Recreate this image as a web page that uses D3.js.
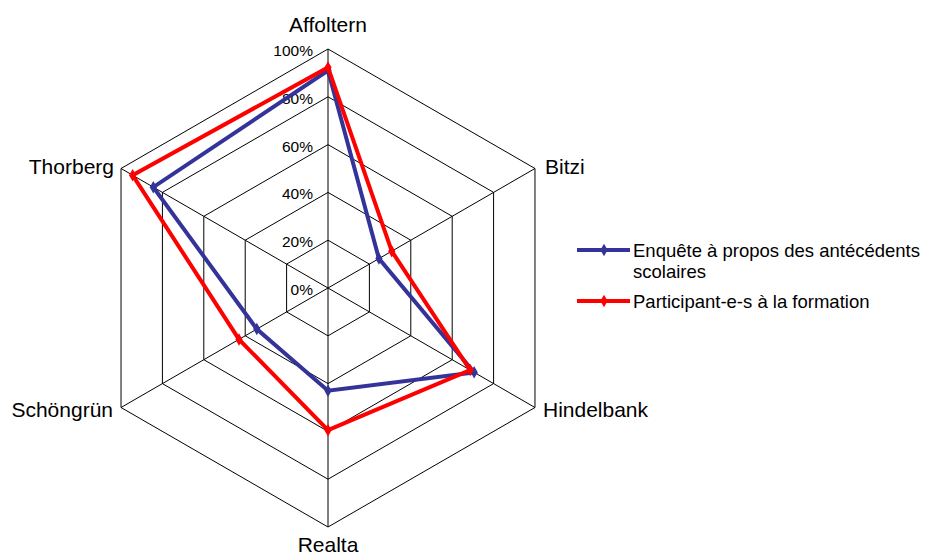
<!DOCTYPE html>
<html>
<head>
<meta charset="utf-8">
<script src="https://cdn.jsdelivr.net/npm/d3@7"></script>
<style>
  html, body { margin: 0; padding: 0; background: #fff; }
  svg text { font-family: "Liberation Sans", Arial, sans-serif; }
</style>
</head>
<body>
<svg id="chart" width="926" height="560"></svg>
<script>
// Institutions around the radar, clockwise from the top
const categories = ["Affoltern", "Bitzi", "Hindelbank", "Realta", "Schöngrün", "Thorberg"];
// Share per institution (%)
const enqueteValues = [91, 24.6, 70.6, 43, 34.4, 84.4];
const participantsValues = [92.3, 30.8, 68.7, 59.5, 43, 94.4];
const tickValues = [0, 20, 40, 60, 80, 100];
const tickLabels = ["0%", "20%", "40%", "60%", "80%", "100%"];
const seriesNames = ["Enquête à propos des antécédents scolaires", "Participant-e-s à la formation"];
const seriesColors = ["#333399", "#FF0000"];

const svg = d3.select("#chart");
const cx = 328, cy = 288, R = 239;

const r = d3.scaleLinear().domain([0, 100]).range([0, R]);
const angle = d3.scaleLinear().domain([0, categories.length]).range([0, 2 * Math.PI]);
const pt = (i, v) => {
  const a = angle(i);
  return [cx + r(v) * Math.sin(a), cy - r(v) * Math.cos(a)];
};

const g = svg.append("g");

// Hexagonal grid rings
tickValues.filter(t => t > 0).forEach(t => {
  g.append("path")
    .attr("d", d3.line()(categories.map((c, i) => pt(i, t))) + "Z")
    .attr("fill", "none").attr("stroke", "#000").attr("stroke-width", 1);
});

// Spokes
categories.forEach((c, i) => {
  const [x, y] = pt(i, 100);
  g.append("line").attr("x1", cx).attr("y1", cy).attr("x2", x).attr("y2", y)
    .attr("stroke", "#000").attr("stroke-width", 1);
});

// Ring labels along the top spoke
tickValues.forEach((t, k) => {
  g.append("text")
    .attr("x", cx - 15).attr("y", cy - r(t) + 7)
    .attr("text-anchor", "end").attr("font-size", 15.5).attr("fill", "#000")
    .text(tickLabels[k]);
});

// Category labels
const labelPos = [
  { dx: 0, dy: -17, anchor: "middle" },
  { dx: 10, dy: 5, anchor: "start" },
  { dx: 8, dy: 9, anchor: "start" },
  { dx: 0, dy: 25, anchor: "middle" },
  { dx: -8, dy: 9, anchor: "end" },
  { dx: -7, dy: 5, anchor: "end" }
];
categories.forEach((c, i) => {
  const [x, y] = pt(i, 100);
  g.append("text")
    .attr("x", x + labelPos[i].dx).attr("y", y + labelPos[i].dy)
    .attr("text-anchor", labelPos[i].anchor).attr("font-size", 21).attr("fill", "#000")
    .text(c);
});

// Series polygons
const diamond = d3.symbol().type(d3.symbolDiamond).size(45);
[enqueteValues, participantsValues].forEach((vals, s) => {
  const pts = vals.map((v, i) => pt(i, v));
  g.append("path")
    .attr("d", d3.line()(pts) + "Z")
    .attr("fill", "none").attr("stroke", seriesColors[s])
    .attr("stroke-width", 4).attr("stroke-linejoin", "miter");
  g.selectAll(null).data(pts).enter().append("path")
    .attr("d", diamond)
    .attr("transform", d => `translate(${d[0]},${d[1]})`)
    .attr("fill", seriesColors[s]);
});

// Legend
const legend = svg.append("g");
const legendItems = [
  { y: 250, lines: ["Enquête à propos des antécédents", "scolaires"] },
  { y: 301, lines: ["Participant-e-s à la formation"] }
];
legendItems.forEach((item, s) => {
  legend.append("line").attr("x1", 577).attr("x2", 630).attr("y1", item.y).attr("y2", item.y)
    .attr("stroke", seriesColors[s]).attr("stroke-width", 4);
  legend.append("path").attr("d", diamond)
    .attr("transform", `translate(604,${item.y})`).attr("fill", seriesColors[s]);
  const t = legend.append("text").attr("x", 633).attr("y", item.y + 7)
    .attr("font-size", 18.5).attr("fill", "#000");
  item.lines.forEach((ln, k) => {
    t.append("tspan").attr("x", 633).attr("dy", k === 0 ? 0 : 21).text(ln);
  });
});
</script>
</body>
</html>
